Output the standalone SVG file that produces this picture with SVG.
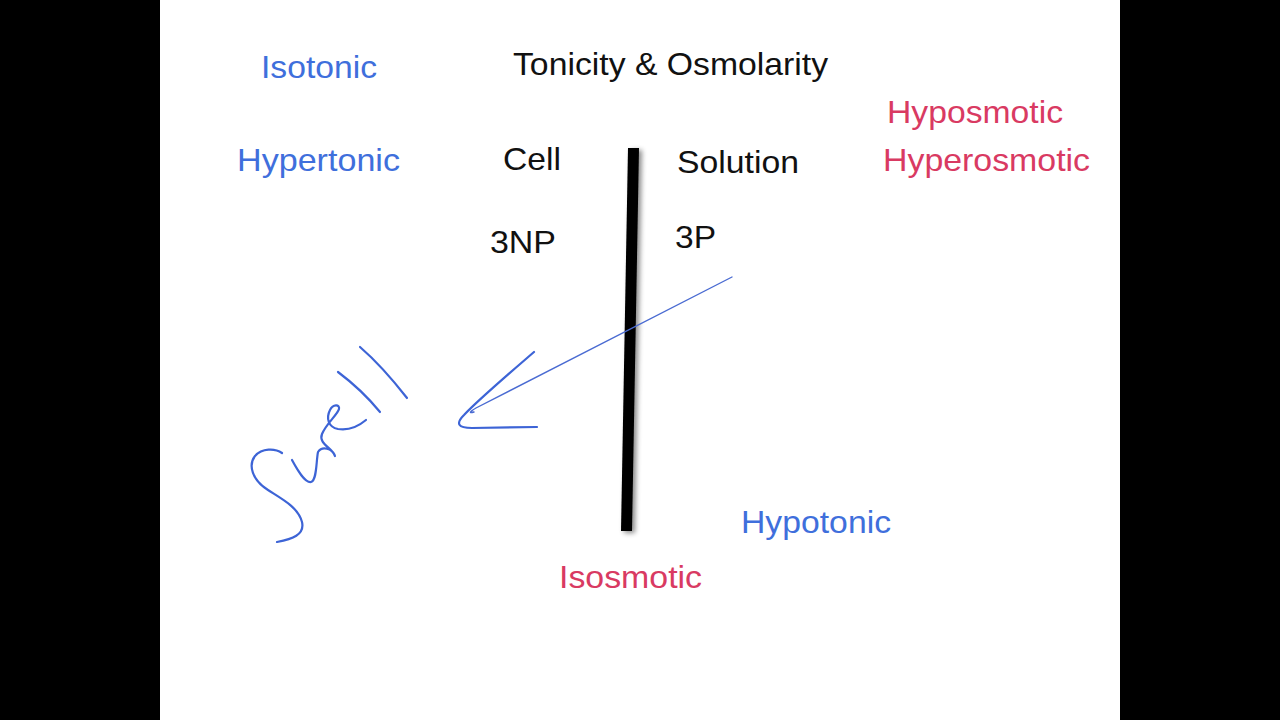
<svg xmlns="http://www.w3.org/2000/svg" width="1280" height="720" viewBox="0 0 1280 720">
  <defs>
    <style>
      text { font-family: "Liberation Sans", Arial, sans-serif; font-size: 32px; }
      .blk { fill: #111111; }
      .blue { fill: #3f6fdc; }
      .red { fill: #d93a62; }
      .ink { fill: none; stroke: #3d64d6; stroke-width: 2.2; stroke-linecap: round; stroke-linejoin: round; }
      .thin { fill: none; stroke: #4a6bd2; stroke-width: 1.4; stroke-linecap: round; }
    </style>
    <filter id="shadow" x="-100%" y="-5%" width="300%" height="110%">
      <feDropShadow dx="3" dy="2" stdDeviation="2.5" flood-color="#000" flood-opacity="0.45"/>
    </filter>
  </defs>

  <rect x="0" y="0" width="1280" height="720" fill="#000000"/>
  <rect x="160" y="0" width="960" height="720" fill="#ffffff"/>

  <g id="title"><text class="blk" x="513" y="75" textLength="315" lengthAdjust="spacingAndGlyphs">Tonicity &amp; Osmolarity</text></g>
  <g id="isotonic"><text class="blue" x="261" y="78" textLength="116" lengthAdjust="spacingAndGlyphs">Isotonic</text></g>
  <g id="hypertonic"><text class="blue" x="237" y="171" textLength="163" lengthAdjust="spacingAndGlyphs">Hypertonic</text></g>
  <g id="cell"><text class="blk" x="503" y="170" textLength="58" lengthAdjust="spacingAndGlyphs">Cell</text></g>
  <g id="solution"><text class="blk" x="677" y="173" textLength="122" lengthAdjust="spacingAndGlyphs">Solution</text></g>
  <g id="np3"><text class="blk" x="490" y="253" textLength="66" lengthAdjust="spacingAndGlyphs">3NP</text></g>
  <g id="p3"><text class="blk" x="675" y="248" textLength="41" lengthAdjust="spacingAndGlyphs">3P</text></g>
  <g id="hyposmotic"><text class="red" x="887" y="123" textLength="176" lengthAdjust="spacingAndGlyphs">Hyposmotic</text></g>
  <g id="hyperosmotic"><text class="red" x="883" y="171" textLength="207" lengthAdjust="spacingAndGlyphs">Hyperosmotic</text></g>
  <g id="hypotonic"><text class="blue" x="741" y="533" textLength="150" lengthAdjust="spacingAndGlyphs">Hypotonic</text></g>
  <g id="isosmotic"><text class="red" x="559" y="588" textLength="143" lengthAdjust="spacingAndGlyphs">Isosmotic</text></g>

  <g id="membrane">
    <polygon points="628,148 639,148 632,531 621,531" fill="#000000" filter="url(#shadow)"/>
  </g>

  <g id="connectors">
    <path class="thin" d="M732,277 L476,408 Q466,414 474,412"/>
    <path class="ink" d="M534,352 C512,371 478,400 464,415 Q451,428 472,428 L537,427"/>
  </g>

  <g id="swell">
    <path class="ink" d="M282,453 C275,448 262,448 255,456 C248,465 252,480 268,490 C282,499 298,507 302,522 C305,535 292,539 277,542"/>
    <path class="ink" d="M292,460 C298,471 305,483 311,482 C317,480 316,462 318,452 C322,446 332,448 335,456 C333,448 318,444 322,434 C326,424 338,414 339,409 C340,404 333,404 330,410 C326,418 328,427 338,429 C350,431 360,425 366,420"/>
    <path class="ink" d="M338,372 Q362,390 380,412"/>
    <path class="ink" d="M360,347 Q382,366 407,398"/>
  </g>
</svg>
